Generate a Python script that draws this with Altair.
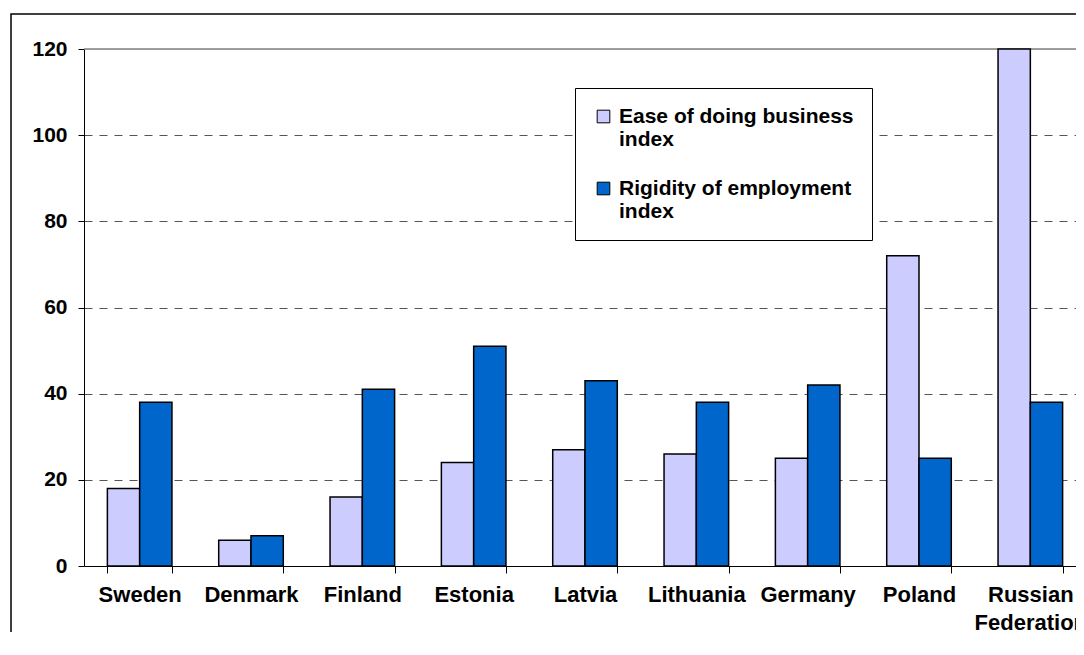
import altair as alt
import pandas as pd

countries = ["Sweden", "Denmark", "Finland", "Estonia", "Latvia",
             "Lithuania", "Germany", "Poland", "Russian Federation"]
ease = [18, 6, 16, 24, 27, 26, 25, 72, 120]
rigidity = [38, 7, 41, 51, 43, 38, 42, 25, 38]
series = ["Ease of doing business index", "Rigidity of employment index"]
colors = ["#CCCCFF", "#0066CC"]
y_ticks = [0, 20, 40, 60, 80, 100, 120]

rows = []
for c, e, r in zip(countries, ease, rigidity):
    rows.append({"country": c, "series": series[0], "value": e})
    rows.append({"country": c, "series": series[1], "value": r})
df = pd.DataFrame(rows)

FONT = "Liberation Sans"

y_scale = alt.Scale(domain=[0, 120], nice=False)

bars = alt.Chart(df).mark_bar(stroke="black", strokeWidth=1.5).encode(
    x=alt.X("country:N", sort=countries, title=None,
            scale=alt.Scale(paddingInner=0.42, paddingOuter=0.21, range=[0, 1002]),
            axis=alt.Axis(labelAngle=0, tickBand="extent", tickSize=7,
                          tickColor="black", domainColor="black",
                          labelFont=FONT, labelFontSize=22, labelFontWeight="bold",
                          labelColor="black", labelPadding=11, labelLineHeight=28,
                          labelExpr="datum.label == 'Russian Federation' ? ['Russian', 'Federation'] : datum.label",
                          grid=False)),
    xOffset=alt.XOffset("series:N", sort=series,
                        scale=alt.Scale(paddingInner=0, paddingOuter=0)),
    y=alt.Y("value:Q", title=None, scale=y_scale,
            axis=alt.Axis(values=y_ticks, tickSize=6, tickColor="black",
                          domainColor="black", labelFont=FONT, labelFontSize=21,
                          labelFontWeight="bold", labelColor="black", labelPadding=11,
                          grid=True, gridColor="#555555", gridDash=[8, 7],
                          gridOpacity={"condition": {"test": "datum.value == 0 || datum.value == 120", "value": 0}, "value": 1})),
    color=alt.Color("series:N", sort=series, title=None,
                    scale=alt.Scale(domain=series, range=colors),
                    legend=alt.Legend(orient="none", legendX=491, legendY=39,
                                      direction="vertical", fillColor="white",
                                      strokeColor="black", padding=18,
                                      labelFont=FONT, labelFontSize=21,
                                      labelFontWeight="bold", labelColor="black",
                                      labelLimit=400, labelOffset=5,
                                      labelExpr="datum.label == 'Ease of doing business index' ? ['Ease of doing business', 'index'] : ['Rigidity of employment', 'index']",
                                      symbolType="square", symbolSize=160,
                                      symbolStrokeColor="black", symbolStrokeWidth=1,
                                      rowPadding=27)),
)

top_border = alt.Chart(pd.DataFrame({"y": [120]})).mark_rule(
    color="#808080", strokeWidth=1.5
).encode(y=alt.Y("y:Q", scale=y_scale))

frame = alt.Chart(pd.DataFrame({"f": [0]})).mark_rect(
    fill=None, stroke="black", strokeWidth=1.5
).encode(x=alt.value(-73), x2=alt.value(1200), y=alt.value(-35), y2=alt.value(800))

chart = alt.layer(frame, top_border, bars).properties(
    width=992, height=517,
    autosize=alt.AutoSizeParams(type="none"),
    padding={"left": 76, "top": 41, "right": 0, "bottom": 66},
).configure_view(stroke=None).configure(background="white")

chart.save("out.html", embed_options={"renderer": "svg", "actions": False})
